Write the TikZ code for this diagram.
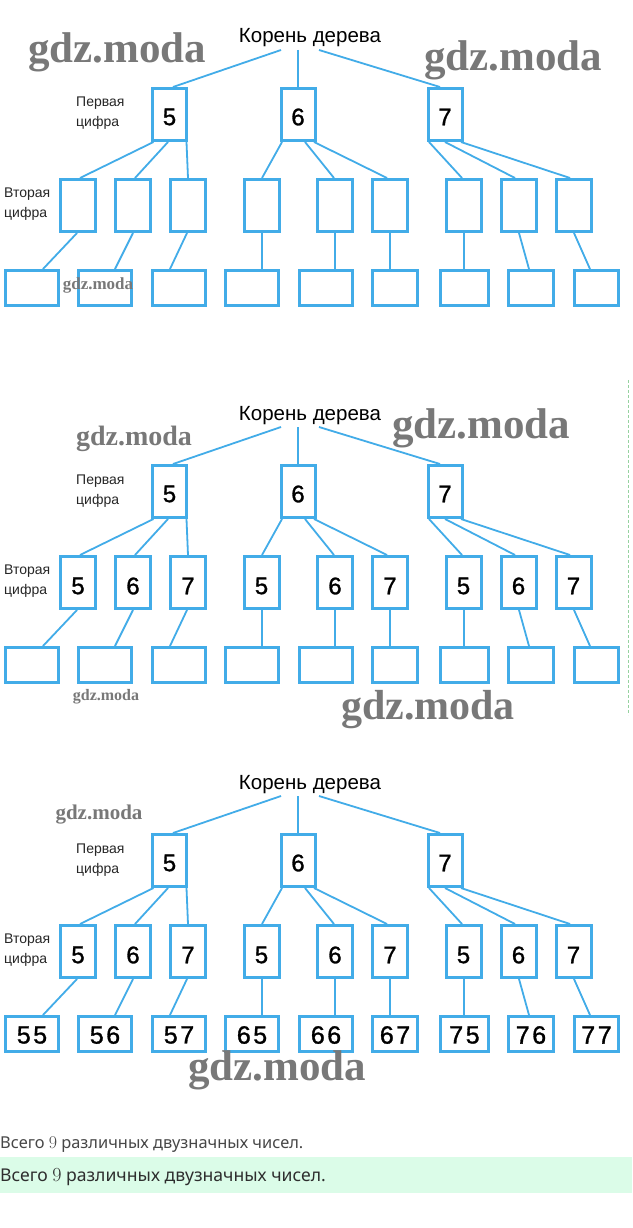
\documentclass[tikz,border=0pt]{standalone}
\usepackage{fontspec}
\newfontfamily\hv{Liberation Sans}
\newfontfamily\hvd[FakeBold=1.2]{Liberation Sans}
\newfontfamily\wm{Liberation Serif}
\newfontfamily\txt{Noto Sans}
\definecolor{tblue}{RGB}{66,172,232}
\definecolor{mint}{RGB}{219,252,232}
\definecolor{dashgreen}{RGB}{150,210,160}
\definecolor{wmgray}{RGB}{120,120,120}
\newcommand{\tw}[2]{#1\kern2.5pt#2}
\begin{document}
\begin{tikzpicture}[x=1pt,y=-1pt,
  boxA/.style={draw=tblue,line width=3pt,minimum width=34pt,minimum height=52pt,inner sep=0pt,fill=white},
  boxB/.style={draw=tblue,line width=3pt,minimum width=35pt,minimum height=52pt,inner sep=0pt,fill=white},
  boxC/.style={draw=tblue,line width=3pt,minimum width=#1,minimum height=35pt,inner sep=0pt,fill=white},
  link/.style={draw=tblue,line width=1.8pt},
  rootlbl/.style={anchor=base,inner sep=0pt,font=\hv\fontsize{20.5}{20.5}\selectfont},
  side/.style={anchor=base west,inner sep=0pt,font=\hv\fontsize{14}{14}\selectfont,text=black!85},
  dig/.style={inner sep=0pt,font=\hvd\fontsize{24}{24}\selectfont},
  dig3/.style={inner sep=0pt,font=\hvd\fontsize{25}{25}\selectfont},
  wmark/.style={inner sep=0pt,text=wmgray,font=\wm\bfseries\fontsize{#1}{#1}\selectfont},
  bottomtxt/.style={anchor=base west,inner sep=0pt}]
\useasboundingbox (0,0) rectangle (632,1228);
\fill[white] (0,0) rectangle (632,1228);

\foreach \d/\dy in {1/0,2/377,3/746}{
  % root
  \node[rootlbl] (root\d) at (310,43+\dy) {Корень дерева};
  \coordinate (rl\d) at (281,50+\dy);
  \coordinate (rm\d) at (298,50+\dy);
  \coordinate (rr\d) at (319,50+\dy);
  % side labels
  \node[side] (p1\d) at (76,107+\dy) {Первая};
  \node[side] (p2\d) at (76,127+\dy) {цифра};
  \node[side] (v1\d) at (4,197+\dy) {Вторая};
  \node[side] (v2\d) at (4,217+\dy) {цифра};
  % level 1
  \foreach \i/\x/\v in {1/169.5/5,2/298/6,3/445/7}{
    \node[boxA] (A\d-\i) at (\x,114.5+\dy) {};
    \node[dig] (a\d-\i) at ([yshift=-2.5pt]A\d-\i.center) {\v};
  }
  % level 2
  \foreach \i/\x/\v in {1/78/5,2/133/6,3/188/7,4/261.5/5,5/335/6,6/390/7,7/463.5/5,8/518.5/6,9/573.5/7}{
    \node[boxB] (B\d-\i) at (\x,205.5+\dy) {};
    \ifnum\d>1
      \node[dig] (b\d-\i) at ([yshift=-3.5pt]B\d-\i.center) {\v};
    \fi
  }
  % level 3
  \foreach \i/\x/\w/\u/\v in {1/32/53/5/5,2/105/53/5/6,3/179/53/5/7,4/252/53/6/5,5/326/53/6/6,6/395/45/6/7,7/464.5/48/7/5,8/531/45/7/6,9/596.5/44/7/7}{
    \node[boxC=\w pt] (C\d-\i) at (\x,288+\dy) {};
    \ifnum\d>2
      \node[dig3] (c\d-\i) at ([yshift=-1pt]C\d-\i.center) {\tw{\u}{\v}};
    \fi
  }
  % root connectors
  \draw[link] (rl\d) -- ([xshift=3.5pt]A\d-1.north);
  \draw[link] (rm\d) -- (A\d-2.north);
  \draw[link] (rr\d) -- ([xshift=-5pt]A\d-3.north);
  % level1 -> level2
  \foreach \p/\ps/\c/\cs in {1/-16/1/2,1/-1.5/2/2,1/17/3/0,2/-16/4/0.5,2/7/5/-1,2/16/6/-3,3/-16/7/-1.5,3/0/8/-3.5,3/16/9/-3.5}{
    \draw[link] ([xshift=\ps pt]A\d-\p.south) -- ([xshift=\cs pt]B\d-\c.north);
  }
  % level2 -> level3
  \foreach \p/\ps/\cs in {1/-1/11,2/0/10,3/-1/-9,4/0.5/10,5/0/9,6/0/-5,7/0.5/-0.5,8/0.5/-2,9/0.5/-6.5}{
    \draw[link] ([xshift=\ps pt]B\d-\p.south) -- ([xshift=\cs pt]C\d-\p.north);
  }
}

% green dashed line on the right of the second tree
\coordinate (g1) at (628,380);
\coordinate (g2) at (628,715);
\draw[dashgreen,line width=0.9pt,dash pattern=on 3pt off 2pt] (g1) -- (g2);

% watermarks
\node[wmark=43] (w1) at (117,52) {gdz.moda};
\node[wmark=43] (w2) at (513,60) {gdz.moda};
\node[wmark=17] (w3) at (98,285) {gdz.moda};
\node[wmark=28] (w4) at (134,439) {gdz.moda};
\node[wmark=43] (w5) at (481,428) {gdz.moda};
\node[wmark=16] (w6) at (106,697) {gdz.moda};
\node[wmark=42] (w7) at (428,710) {gdz.moda};
\node[wmark=21] (w8) at (99,815) {gdz.moda};
\node[wmark=43] (w9) at (277,1070) {gdz.moda};

% bottom text
\fill[mint] (0,1157) rectangle (632,1193);
\node[bottomtxt,text=black!72,font=\txt\fontsize{16.4}{16.4}\selectfont] (t1) at (0,1148)
  {Всего {\rmfamily\fontsize{18}{18}\selectfont 9} различных двузначных чисел.};
\node[bottomtxt,text=black!82,font=\txt\fontsize{17.6}{17.6}\selectfont] (t2) at (0,1181)
  {Всего {\rmfamily\fontsize{20}{20}\selectfont 9} различных двузначных чисел.};
\end{tikzpicture}
\end{document}
